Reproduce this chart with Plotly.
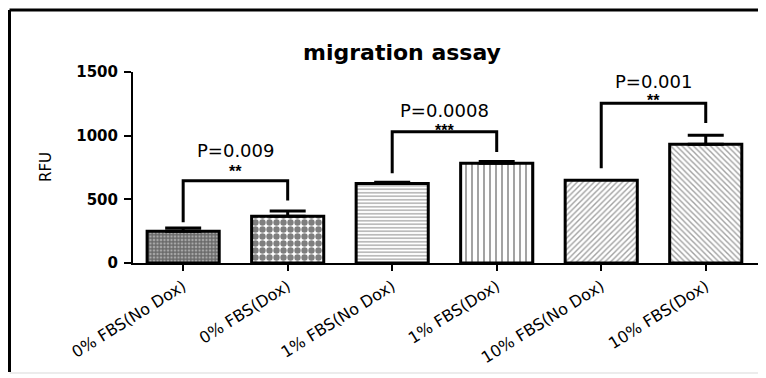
import plotly.graph_objects as go

categories = ["0% FBS(No Dox)", "0% FBS(Dox)", "1% FBS(No Dox)",
              "1% FBS(Dox)", "10% FBS(No Dox)", "10% FBS(Dox)"]
means = [250, 368, 625, 783, 650, 933]
errors = [25, 40, 10, 15, 0, 70]

# significance brackets: (left bar, right bar)
pair_left = [0, 2, 4]
pair_right = [1, 3, 5]
bracket_top = [645, 1030, 1255]
bracket_left_bottom = [320, 705, 745]
bracket_right_bottom = [490, 872, 1100]
p_labels = ["P=0.009", "P=0.0008", "P=0.001"]
star_labels = ["**", "***", "**"]
p_label_y = [885, 1296, 1520]
star_label_y = [715, 1120, 1355]

y_ticks = [0, 500, 1000, 1500]
y_max = 1500

patterns = [
    dict(shape="+", size=3.5, solidity=0.6, fgcolor="#222", bgcolor="#aaa"),
    dict(shape=".", size=7, solidity=0.65, fgcolor="black", bgcolor="white"),
    dict(shape="-", size=3.5, solidity=0.4, fgcolor="#555", bgcolor="white"),
    dict(shape="|", size=6, solidity=0.3, fgcolor="#333", bgcolor="white"),
    dict(shape="/", size=4, solidity=0.35, fgcolor="#444", bgcolor="white"),
    dict(shape="\\", size=4, solidity=0.35, fgcolor="#444", bgcolor="white"),
]

fig = go.Figure()
for i, cat in enumerate(categories):
    fig.add_trace(go.Bar(
        x=[i], y=[means[i]], width=0.69,
        marker=dict(color="white", pattern=patterns[i],
                    line=dict(color="black", width=3)),
        error_y=dict(type="data", array=[errors[i]], arrayminus=[0],
                     symmetric=False, visible=errors[i] > 0,
                     color="black", thickness=3, width=18),
        showlegend=False,
    ))

# brackets
for k in range(len(pair_left)):
    a, b = pair_left[k], pair_right[k]
    fig.add_shape(type="path",
                  path=f"M {a} {bracket_left_bottom[k]} L {a} {bracket_top[k]} "
                       f"L {b} {bracket_top[k]} L {b} {bracket_right_bottom[k]}",
                  xref="x", yref="y", line=dict(color="black", width=3))
    fig.add_annotation(x=(a + b) / 2, y=p_label_y[k] / y_max, text=p_labels[k],
                       showarrow=False, xref="x", yref="paper",
                       font=dict(family="DejaVu Sans", size=18, color="black"))
    fig.add_annotation(x=(a + b) / 2, y=star_label_y[k] / y_max,
                       text="<b>" + star_labels[k] + "</b>",
                       showarrow=False, xref="x", yref="paper",
                       font=dict(family="Liberation Sans", size=16, color="#000000"))

# page body has an 8px margin: figure pixel = screen pixel - 8
OFF = 8
W, H = 758, 370
L, T = 133 - OFF, 72 - OFF
R = W - (758 - OFF)
B = H - (263 - OFF)
pw, ph = W - L - R, H - T - B

def px(xs):
    return (xs - OFF - L) / pw

def py(ys):
    return (H - B - (ys - OFF)) / ph

# title
fig.add_annotation(x=px(402), y=py(38), xref="paper", yref="paper",
                   text="<b>migration assay</b>", showarrow=False,
                   font=dict(family="DejaVu Sans", size=22, color="black"))
# y-axis title
fig.add_annotation(x=px(35), y=py(167), xref="paper", yref="paper",
                   text="RFU", textangle=-90, showarrow=False,
                   font=dict(family="DejaVu Sans", size=15, color="black"))

# outer frame
fig.add_shape(type="line", xref="paper", yref="paper",
              x0=px(9.5), x1=px(766), y0=py(10), y1=py(10),
              line=dict(color="black", width=3))
fig.add_shape(type="line", xref="paper", yref="paper",
              x0=px(9.5), x1=px(9.5), y0=py(10), y1=py(372),
              line=dict(color="black", width=3))
fig.add_shape(type="line", xref="paper", yref="paper",
              x0=px(9.5), x1=px(766), y0=py(373), y1=py(373),
              line=dict(color="#e6e6e6", width=1.5))

fig.update_layout(
    width=W, height=H,
    margin=dict(l=L, r=R, t=T, b=B),
    plot_bgcolor="white", paper_bgcolor="white",
    xaxis=dict(range=[-0.48, 5.5], tickmode="array",
               tickvals=list(range(len(categories))), ticktext=categories,
               tickangle=-32, ticks="outside", ticklen=6, tickwidth=2,
               tickcolor="black", showline=True, linecolor="black",
               linewidth=2, showgrid=False, zeroline=False,
               tickfont=dict(family="DejaVu Sans", size=16, color="black")),
    yaxis=dict(range=[0, y_max], tickmode="array", tickvals=y_ticks,
               ticks="outside", ticklen=7, tickwidth=2, tickcolor="black",
               showline=True, linecolor="black", linewidth=2,
               showgrid=False, zeroline=False,
               tickfont=dict(family="DejaVu Sans", size=15, color="black",
                             weight="bold"),
               ticklabelstandoff=3),
)

fig.write_html("out.html")
